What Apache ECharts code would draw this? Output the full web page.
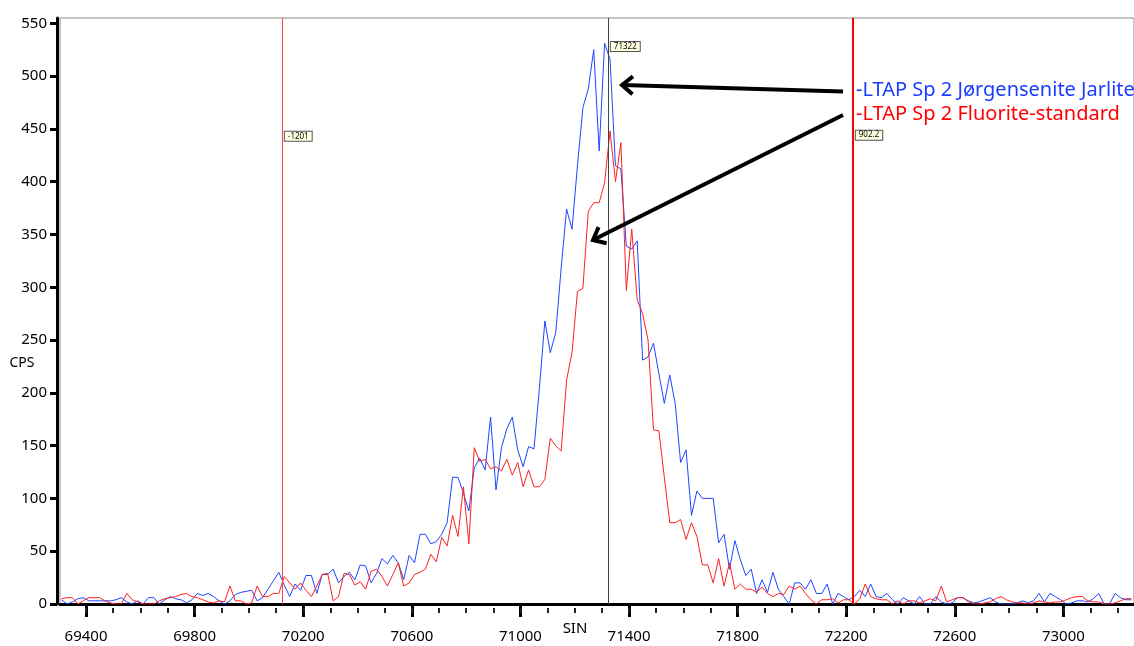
<!DOCTYPE html>
<html>
<head>
<meta charset="utf-8">
<title>SIN scan</title>
<script src="https://cdn.jsdelivr.net/npm/echarts@6/dist/echarts.min.js"></script>
<style>
  html, body { margin: 0; padding: 0; background: #fff; }
  #chart { width: 1134px; height: 646px; }
</style>
</head>
<body>
<div id="chart"></div>
<script>
// scan positions: first channel + step (SIN units)
const sinStart = 69310
const sinStep = 20

// CPS, one value per channel
const jorgensenite = [
  4, 0, 2, 5, 6, 3, 3, 3, 3, 3,
  4, 6, 2, 0, 3, 0, 6, 6, 0, 4,
  7, 5, 4, 1, 4, 10, 8, 10, 7, 3,
  0, 3, 9, 11, 12, 13, 3, 6, 14, 22,
  30, 18, 7, 19, 13, 27, 27, 10, 28, 28,
  33, 20, 26, 30, 23, 37, 36, 20, 29, 43,
  38, 46, 39, 23, 46, 39, 66, 66, 57, 59,
  66, 77, 120, 120, 105, 88, 129, 138, 127, 177,
  108, 148, 166, 177, 146, 130, 149, 147, 205, 268,
  238, 257, 318, 374, 355, 415, 470, 488, 525, 429,
  531, 516, 415, 412, 339, 336, 344, 231, 234, 247,
  218, 190, 217, 190, 134, 146, 84, 107, 100, 100,
  100, 58, 66, 33, 60, 42, 27, 33, 10, 23,
  11, 30, 14, 7, 0, 20, 20, 14, 23, 10,
  10, 19, 0, 10, 7, 4, 7, 13, 7, 19,
  7, 6, 10, 4, 0, 6, 3, 0, 7, 0,
  0, 7, 2, 0, 1, 6, 6, 3, 1, 2,
  4, 6, 2, 0, 0, 0, 1, 3, 1, 3,
  10, 2, 10, 7, 4, 0, 1, 3, 3, 2,
  5, 10, 0, 0, 10, 6, 4, 4
]
const fluorite = [
  5, 6, 6, 0, 3, 6, 6, 6, 3, 1,
  0, 0, 10, 4, 2, 0, 0, 0, 3, 5,
  6, 7, 9, 10, 7, 6, 4, 2, 1, 3,
  2, 17, 3, 3, 0, 1, 17, 7, 7, 10,
  10, 26, 20, 14, 20, 13, 7, 17, 28, 29,
  3, 7, 29, 28, 18, 21, 14, 31, 33, 26,
  17, 28, 39, 17, 20, 28, 30, 33, 47, 40,
  63, 55, 84, 64, 111, 57, 148, 135, 137, 128,
  130, 126, 137, 122, 134, 111, 127, 111, 111, 118,
  157, 150, 145, 212, 238, 296, 299, 372, 380, 380,
  399, 448, 400, 437, 297, 355, 288, 275, 250, 165,
  164, 120, 77, 77, 80, 61, 77, 64, 37, 37,
  20, 43, 17, 39, 14, 19, 14, 14, 11, 16,
  10, 7, 10, 9, 17, 14, 17, 10, 4, 0,
  4, 4, 5, 1, 4, 4, 0, 5, 19, 7,
  5, 4, 4, 0, 3, 0, 3, 3, 1, 3,
  5, 3, 17, 2, 4, 6, 6, 2, 0, 0,
  1, 2, 5, 7, 4, 2, 1, 1, 0, 1,
  3, 2, 1, 2, 2, 4, 6, 7, 7, 3,
  2, 2, 0, 0, 1, 3, 5, 5
]

const sinTicks = [69400, 69800, 70200, 70600, 71000, 71400, 71800, 72200, 72600, 73000]
const cpsTicks = [0, 50, 100, 150, 200, 250, 300, 350, 400, 450, 500, 550]

// cursor and the two offsets shown in the little boxes
const cursorSin = 71322
const lowOffset = -1201
const highOffset = 902.2

const seriesNames = ['-LTAP Sp 2 Jørgensenite Jarlite', '-LTAP Sp 2 Fluorite-standard']
const seriesColors = ['#1f45ff', '#ff2020']

const xMin = 69304
const xMax = 73260

// minor ticks every 100
const sinMinorTicks = []
for (let v = 69400; v <= 73200; v += 100) sinMinorTicks.push(v)

const toPairs = arr => arr.map((c, i) => [sinStart + i * sinStep, c])

const font = '"Noto Sans", "Open Sans", sans-serif'

// chevron arrow: shaft + open head (pixel annotations)
function arrow(tail, tip) {
  const dx = tail[0] - tip[0], dy = tail[1] - tip[1]
  const len = Math.sqrt(dx * dx + dy * dy)
  const ux = dx / len, uy = dy / len
  const a = 40 * Math.PI / 180, arm = 14
  const c = Math.cos(a), s = Math.sin(a)
  const p1 = [tip[0] + arm * (ux * c - uy * s), tip[1] + arm * (ux * s + uy * c)]
  const p2 = [tip[0] + arm * (ux * c + uy * s), tip[1] + arm * (-ux * s + uy * c)]
  const st = { stroke: '#000', lineWidth: 4, fill: null, lineJoin: 'miter' }
  return [
    { type: 'polyline', shape: { points: [tail, tip] }, style: st, z: 100 },
    { type: 'polyline', shape: { points: [p1, tip, p2] }, style: st, z: 100 }
  ]
}

const chart = echarts.init(document.getElementById('chart'))

const boxLabel = {
  show: true,
  position: 'right',
  distance: 3,
  formatter: p => p.data.text,
  fontSize: 8,
  fontFamily: font,
  color: '#000',
  backgroundColor: '#ffffe1',
  borderColor: '#555',
  borderWidth: 1,
  padding: [1, 3, 0, 3]
}

const option = {
  animation: false,
  grid: {
    left: 60, right: -1, top: 18, bottom: 42,
    show: true, borderColor: '#8a8a8a', borderWidth: 1
  },
  xAxis: [
    {
      type: 'value', position: 'bottom', min: xMin, max: xMax, offset: 4,
      axisLine: { show: true, lineStyle: { color: '#000', width: 3 } },
      axisTick: { show: true, customValues: sinTicks, length: 13, lineStyle: { color: '#000', width: 3 } },
      axisLabel: { customValues: sinTicks, formatter: v => String(v), margin: 21, fontSize: 15, color: '#000', fontFamily: font },
      splitLine: { show: false }
    },
    {
      type: 'value', position: 'bottom', min: xMin, max: xMax, offset: 4,
      axisLine: { show: false },
      axisTick: { show: true, customValues: sinMinorTicks, length: 5, lineStyle: { color: '#222', width: 2 } },
      axisLabel: { show: false },
      splitLine: { show: false }
    }
  ],
  yAxis: {
    type: 'value', min: 0, max: 555, offset: 3,
    axisLine: { show: true, lineStyle: { color: '#000', width: 3 } },
    axisTick: { show: true, customValues: cpsTicks, length: 7, lineStyle: { color: '#000', width: 3 } },
    axisLabel: { customValues: cpsTicks, formatter: v => String(v), margin: 10, fontSize: 15, color: '#000', fontFamily: font },
    splitLine: { show: false }
  },
  series: [
    {
      name: seriesNames[0],
      type: 'line',
      data: toPairs(jorgensenite),
      showSymbol: false,
      lineStyle: { color: seriesColors[0], width: 1 },
      markLine: {
        silent: true,
        symbol: ['none', 'none'],
        label: { show: false },
        data: [
          { xAxis: cursorSin + lowOffset, lineStyle: { color: '#ff4444', width: 1, type: 'solid' } },
          { xAxis: cursorSin, lineStyle: { color: '#444', width: 1, type: 'solid' } },
          { xAxis: cursorSin + highOffset, lineStyle: { color: '#ff0000', width: 2, type: 'solid' } }
        ]
      },
      markPoint: {
        symbol: 'rect',
        symbolSize: 0,
        silent: true,
        label: boxLabel,
        data: [
          { coord: [cursorSin + lowOffset, 443], text: String(lowOffset) },
          { coord: [cursorSin, 528], text: String(cursorSin) },
          { coord: [cursorSin + highOffset, 444], text: String(highOffset) }
        ]
      }
    },
    {
      name: seriesNames[1],
      type: 'line',
      data: toPairs(fluorite),
      showSymbol: false,
      lineStyle: { color: seriesColors[1], width: 1 }
    }
  ],
  graphic: [
    { type: 'text', x: 22, y: 363, style: { text: 'CPS', font: '14px ' + font, fill: '#000', align: 'center', verticalAlign: 'middle' } },
    { type: 'text', x: 575, y: 629, style: { text: 'SIN', font: '15px ' + font, fill: '#000', align: 'center', verticalAlign: 'middle' } },
    { type: 'text', x: 856, y: 90, z: 100, style: { text: seriesNames[0], font: '20px ' + font, fill: '#1a3cff', align: 'left', verticalAlign: 'middle' } },
    { type: 'text', x: 856, y: 114, z: 100, style: { text: seriesNames[1], font: '20px ' + font, fill: '#ff0000', align: 'left', verticalAlign: 'middle' } },
    ...arrow([843, 91.5], [622, 85]),
    ...arrow([843, 115], [593, 240])
  ]
}

chart.setOption(option)
</script>
</body>
</html>
